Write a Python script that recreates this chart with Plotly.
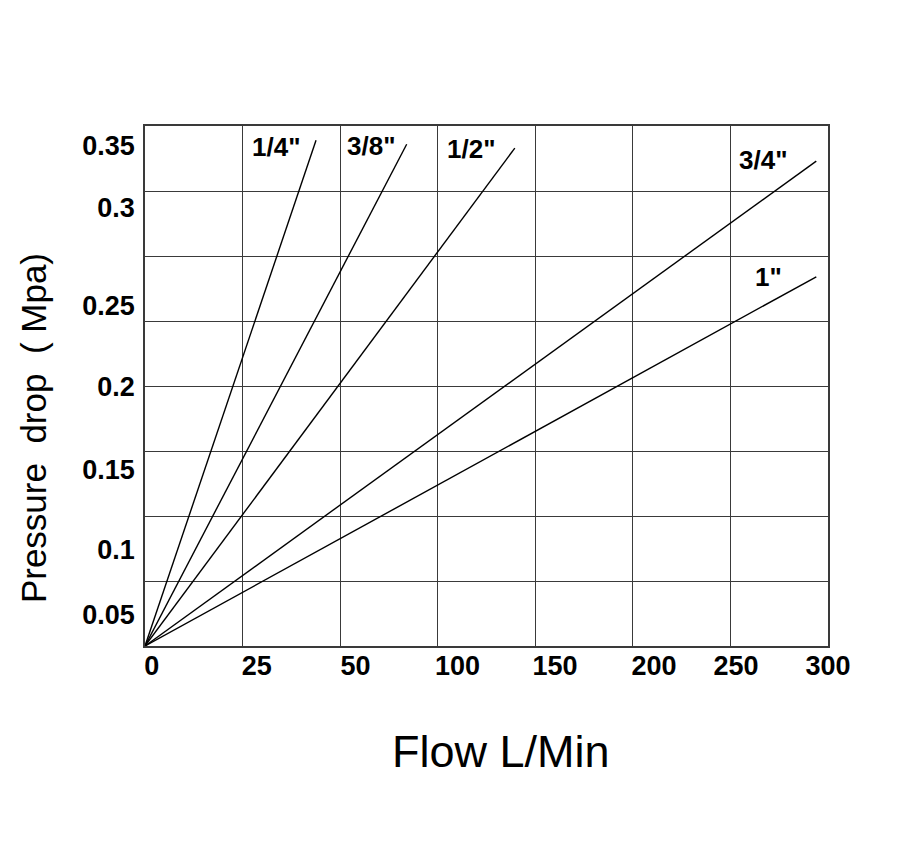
import plotly.graph_objects as go

# ---- data (chart grid units: x 0..7 columns, y 0..8 rows) ----
series_names = ['1/4"', '3/8"', '1/2"', '3/4"', '1"']
flow_end = [1.753, 2.682, 3.79, 6.88, 6.88]
drop_end = [7.78, 7.72, 7.66, 7.46, 5.68]

x_tick_text = ["0", "25", "50", "100", "150", "200", "250", "300"]
x_tick_pos = [0.07, 1.145, 2.157, 3.203, 4.202, 5.217, 6.057, 7.0]
y_tick_text = ["0.05", "0.1", "0.15", "0.2", "0.25", "0.3", "0.35"]
y_tick_pos = [0.48, 1.48, 2.71, 3.99, 5.24, 6.75, 7.70]

FONT = "Liberation Sans, Arial, sans-serif"
GRID = "#3a3a3a"

fig = go.Figure()
for name, xe, ye in zip(series_names, flow_end, drop_end):
    fig.add_trace(go.Scatter(x=[0, xe], y=[0, ye], mode="lines", name=name,
                             line=dict(color="black", width=1.4),
                             showlegend=False, hoverinfo="skip"))

# series labels (placed beside line ends)
label_shift = [(-14, -7), (-10, -2), (-18, -1), (-27, 1), (-32, 0)]
for name, xe, ye, (dx, dy) in zip(series_names, flow_end, drop_end, label_shift):
    fig.add_annotation(x=xe, y=ye, xref="x", yref="y", text=name, showarrow=False,
                       xanchor="right", yanchor="middle", xshift=dx, yshift=dy,
                       font=dict(family=FONT, size=26, color="black", weight="bold"))

# axis titles
fig.add_annotation(x=0.521, y=-0.202, xref="paper", yref="paper", text="Flow L/Min",
                   showarrow=False, xanchor="center", yanchor="middle",
                   font=dict(family=FONT, size=45, color="black"))
fig.add_annotation(x=-0.164, y=0.419, xref="paper", yref="paper",
                   text="Pressure&nbsp; drop&nbsp; ( Mpa)", textangle=-90,
                   showarrow=False, xanchor="center", yanchor="middle",
                   font=dict(family=FONT, size=35, color="black"))

fig.update_layout(
    width=900, height=850,
    paper_bgcolor="white", plot_bgcolor="white",
    margin=dict(l=137, r=80, t=118, b=212, autoexpand=False),
    xaxis=dict(
        range=[0, 7], showgrid=False, zeroline=False,
        tickmode="array", tickvals=x_tick_pos, ticktext=x_tick_text,
        ticks="", ticklen=0, ticklabelstandoff=-5,
        tickfont=dict(family=FONT, size=27, color="black", weight="bold"),
        showline=True, mirror=True, linecolor=GRID, linewidth=1.5,
        minor=dict(tickmode="array", tickvals=list(range(8)), showgrid=True,
                   gridcolor=GRID, gridwidth=1.3, ticks=""),
        fixedrange=True,
    ),
    yaxis=dict(
        range=[0, 8], showgrid=False, zeroline=False,
        tickmode="array", tickvals=y_tick_pos, ticktext=y_tick_text,
        ticks="", ticklen=0, ticklabelstandoff=3,
        tickfont=dict(family=FONT, size=27, color="black", weight="bold"),
        showline=True, mirror=True, linecolor=GRID, linewidth=1.5,
        minor=dict(tickmode="array", tickvals=list(range(9)), showgrid=True,
                   gridcolor=GRID, gridwidth=1.3, ticks=""),
        fixedrange=True,
    ),
)

fig.write_html("out.html")
